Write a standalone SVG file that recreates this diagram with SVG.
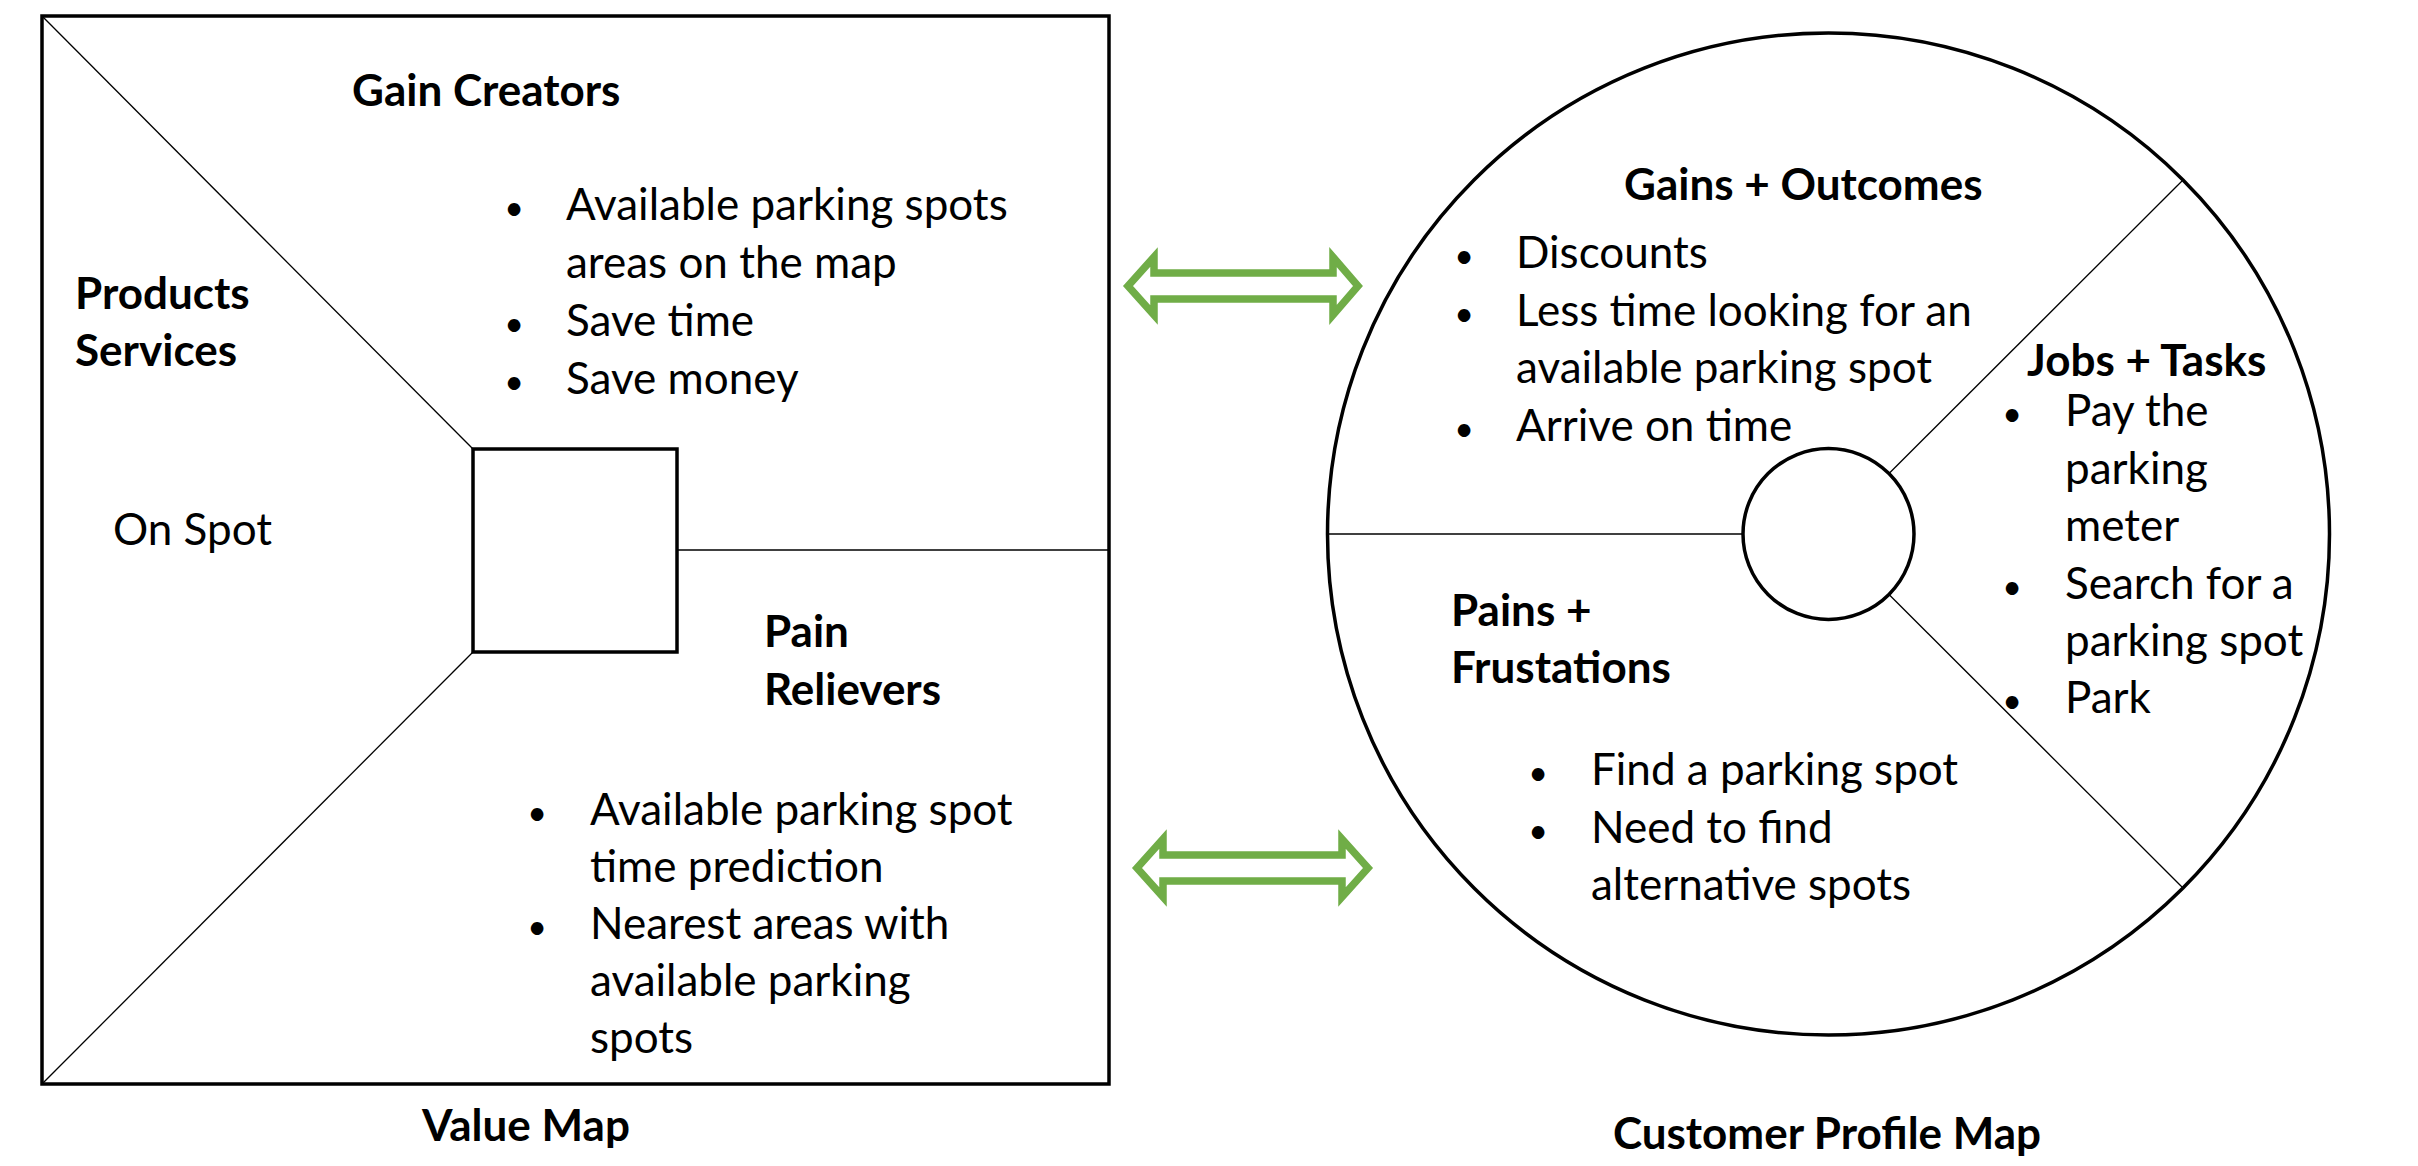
<svg xmlns="http://www.w3.org/2000/svg" width="2418" height="1166" viewBox="0 0 2418 1166">
<style>
.t{font-family:Lato,"Liberation Sans",sans-serif;font-size:44px;fill:#000}
.b{font-weight:bold}
.bu{font-family:Lato,"Liberation Sans",sans-serif;font-size:34px;fill:#000;text-anchor:middle}
.frame{fill:none;stroke:#000;stroke-width:3.5}
.thin{fill:none;stroke:#000;stroke-width:1.3}
.arrow{fill:none;stroke:#70AD47;stroke-width:7.5;stroke-linejoin:miter}
</style>
<rect width="2418" height="1166" fill="#fff"/>
<g id="value-map">
<rect class="frame" x="42" y="16" width="1067" height="1068"/>
<line class="thin" x1="42" y1="16" x2="473" y2="449"/>
<line class="thin" x1="42" y1="1084" x2="473" y2="652"/>
<line class="thin" x1="677" y1="550" x2="1109" y2="550"/>
<rect class="frame" x="473" y="449" width="204" height="203"/>
</g>
<g id="gain-creators">
<text class="t b" x="352" y="106">Gain Creators</text>
<text class="bu" x="514" y="220">•</text><text class="t" x="566" y="220">Available parking spots</text>
<text class="t" x="566" y="278">areas on the map</text>
<text class="bu" x="514" y="336">•</text><text class="t" x="566" y="336">Save time</text>
<text class="bu" x="514" y="394">•</text><text class="t" x="566" y="394">Save money</text>
</g>
<g id="products-services">
<text class="t b" x="75" y="309">Products</text>
<text class="t b" x="75" y="366">Services</text>
<text class="t" x="113" y="545">On Spot</text>
</g>
<g id="pain-relievers">
<text class="t b" x="764" y="647">Pain</text>
<text class="t b" x="764" y="705">Relievers</text>
<text class="bu" x="537" y="825">•</text><text class="t" x="590" y="825">Available parking spot</text>
<text class="t" x="590" y="882">time prediction</text>
<text class="bu" x="537" y="939">•</text><text class="t" x="590" y="939">Nearest areas with</text>
<text class="t" x="590" y="996">available parking</text>
<text class="t" x="590" y="1053">spots</text>
</g>
<g id="value-map-label">
<text class="t b" x="526" y="1141" text-anchor="middle">Value Map</text>
</g>
<g id="customer-profile">
<circle class="frame" cx="1828.5" cy="534" r="501"/>
<line class="thin" x1="1327.5" y1="534" x2="1743" y2="534"/>
<line class="thin" x1="1889" y1="473.5" x2="2183" y2="180"/>
<line class="thin" x1="1889" y1="594.5" x2="2183" y2="888"/>
<circle class="frame" cx="1828.5" cy="534" r="85.5"/>
</g>
<g id="gains-outcomes">
<text class="t b" x="1624" y="200">Gains + Outcomes</text>
<text class="bu" x="1464" y="268">•</text><text class="t" x="1516" y="268">Discounts</text>
<text class="bu" x="1464" y="326">•</text><text class="t" x="1516" y="326">Less time looking for an</text>
<text class="t" x="1516" y="383">available parking spot</text>
<text class="bu" x="1464" y="441">•</text><text class="t" x="1516" y="441">Arrive on time</text>
</g>
<g id="jobs-tasks">
<text class="t b" x="2027" y="376">Jobs + Tasks</text>
<text class="bu" x="2012" y="426">•</text><text class="t" x="2065" y="426">Pay the</text>
<text class="t" x="2065" y="484">parking</text>
<text class="t" x="2065" y="541">meter</text>
<text class="bu" x="2012" y="599">•</text><text class="t" x="2065" y="599">Search for a</text>
<text class="t" x="2065" y="656">parking spot</text>
<text class="bu" x="2012" y="713">•</text><text class="t" x="2065" y="713">Park</text>
</g>
<g id="pains-frustrations">
<text class="t b" x="1451" y="626">Pains +</text>
<text class="t b" x="1451" y="683">Frustations</text>
<text class="bu" x="1538" y="785">•</text><text class="t" x="1591" y="785">Find a parking spot</text>
<text class="bu" x="1538" y="843">•</text><text class="t" x="1591" y="843">Need to find</text>
<text class="t" x="1591" y="900">alternative spots</text>
</g>
<g id="customer-profile-label">
<text class="t b" x="1827" y="1149" text-anchor="middle">Customer Profile Map</text>
</g>
<g id="connectors">
<polygon class="arrow" points="1128,286 1154,257 1154,273 1333,273 1333,257 1358,286 1333,315 1333,299 1154,299 1154,315"/>
<polygon class="arrow" points="1137,868 1163,839 1163,855 1342,855 1342,839 1368,868 1342,897 1342,881 1163,881 1163,897"/>
</g>
</svg>
